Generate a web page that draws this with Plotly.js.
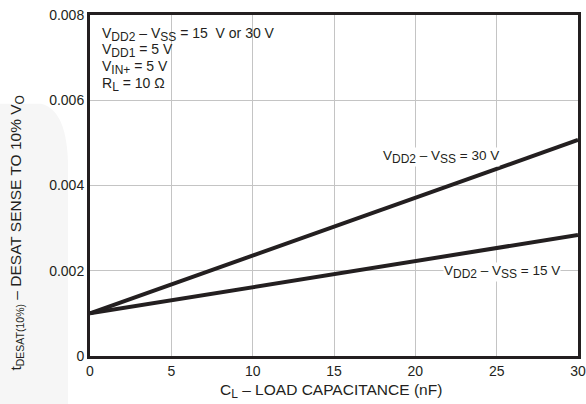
<!DOCTYPE html>
<html>
<head>
<meta charset="utf-8">
<script src="https://cdn.plot.ly/plotly-3.0.1.min.js"></script>
<style>html,body{margin:0;padding:0;background:#fff}#chart{width:586px;height:404px}</style>
</head>
<body>
<div id="chart"></div>
<script>
// Data
const loadCapacitance = [0, 15, 30];               // nF
const tDesat30V = [0.00100, 0.00304, 0.00507];     // VDD2 - VSS = 30 V
const tDesat15V = [0.00100, 0.00192, 0.00284];     // VDD2 - VSS = 15 V
const xTickVals = [0, 5, 10, 15, 20, 25, 30];
const xTickText = ['0', '5', '10', '15', '20', '25', '30'];
const yTickVals = [0, 0.002, 0.004, 0.006, 0.008];
const yTickText = ['0', '0.002', '0.004', '0.006', '0.008'];

const ink = '#231f20';
const font = 'Liberation Sans, Arial, Helvetica, sans-serif';
const sb = (s, px) => '<sub><span style="font-size:' + (px || 12) + 'px">' + s + '</span></sub>';

const traces = [
  {x: loadCapacitance, y: tDesat30V, mode: 'lines', line: {color: ink, width: 4}, hoverinfo: 'skip', showlegend: false},
  {x: loadCapacitance, y: tDesat15V, mode: 'lines', line: {color: ink, width: 4}, hoverinfo: 'skip', showlegend: false}
];

const boxLines = [
  'V' + sb('DD2') + ' – V' + sb('SS') + ' = 15  V or 30 V',
  'V' + sb('DD1') + ' = 5 V',
  'V' + sb('IN+') + ' = 5 V',
  'R' + sb('L') + ' = 10 Ω'
];
const boxY = [0.944, 0.895, 0.846, 0.797];

const annotations = boxLines.map((t, i) => ({
  xref: 'paper', yref: 'paper', x: 0.0195, y: boxY[i], xanchor: 'left', yanchor: 'middle', align: 'left',
  showarrow: false, font: {size: 14, color: ink}, text: t
}));

annotations.push(
  {x: 21.6, y: 0.00467, xref: 'x', yref: 'y', showarrow: false, bgcolor: '#fff', borderpad: 0,
   font: {size: 13.5, color: ink}, text: 'V' + sb('DD2') + ' – V' + sb('SS') + ' = 30 V'},
  {x: 25.3, y: 0.00197, xref: 'x', yref: 'y', showarrow: false, bgcolor: '#fff', borderpad: 0,
   font: {size: 13.5, color: ink}, text: 'V' + sb('DD2') + ' – V' + sb('SS') + ' = 15 V'},
  {xref: 'paper', yref: 'paper', x: 0.493, y: -0.103, xanchor: 'center', yanchor: 'middle', showarrow: false,
   font: {size: 15.5, color: ink}, text: 'C' + sb('L', 12) + ' – LOAD CAPACITANCE (nF)'},
  {xref: 'paper', yref: 'paper', x: -0.149, y: 0.36, xanchor: 'center', yanchor: 'middle', showarrow: false,
   textangle: -90, font: {size: 15.5, color: ink},
   text: 't' + sb('DESAT(10%)', 10.5) + ' – DESAT SENSE TO 10% V' + sb('O', 12)}
);

const layout = {
  width: 586, height: 404,
  margin: {l: 90, r: 8, t: 15, b: 48},
  paper_bgcolor: '#fff', plot_bgcolor: '#fff',
  font: {family: font, size: 14, color: ink},
  showlegend: false,
  xaxis: {
    range: [0, 30], tickvals: xTickVals, ticktext: xTickText,
    showgrid: true, gridcolor: '#c4c4c4', gridwidth: 1,
    zeroline: false, showline: true, linecolor: ink, linewidth: 3, mirror: true,
    ticks: '', fixedrange: true, tickfont: {size: 14, color: ink}
  },
  yaxis: {
    range: [0, 0.008], tickvals: yTickVals, ticktext: yTickText,
    showgrid: true, gridcolor: '#c4c4c4', gridwidth: 1,
    zeroline: false, showline: true, linecolor: ink, linewidth: 3, mirror: true,
    ticks: '', fixedrange: true, tickfont: {size: 14, color: ink}
  },
  shapes: [
    {type: 'path', xref: 'paper', yref: 'paper', layer: 'below',
     path: 'M -0.19 -0.15 L -0.19 0.74 L -0.10 0.74 Q -0.045 0.72 -0.045 0.55 L -0.045 -0.15 Z',
     fillcolor: '#f6f6f6', line: {width: 0}},
    {type: 'rect', xref: 'x domain', yref: 'y domain', layer: 'below',
     x0: 0.008, x1: 0.40, y0: 0.765, y1: 0.975,
     fillcolor: '#fff', line: {width: 0}}
  ],
  annotations: annotations
};

Plotly.newPlot('chart', traces, layout, {staticPlot: true, displayModeBar: false});
</script>
</body>
</html>
